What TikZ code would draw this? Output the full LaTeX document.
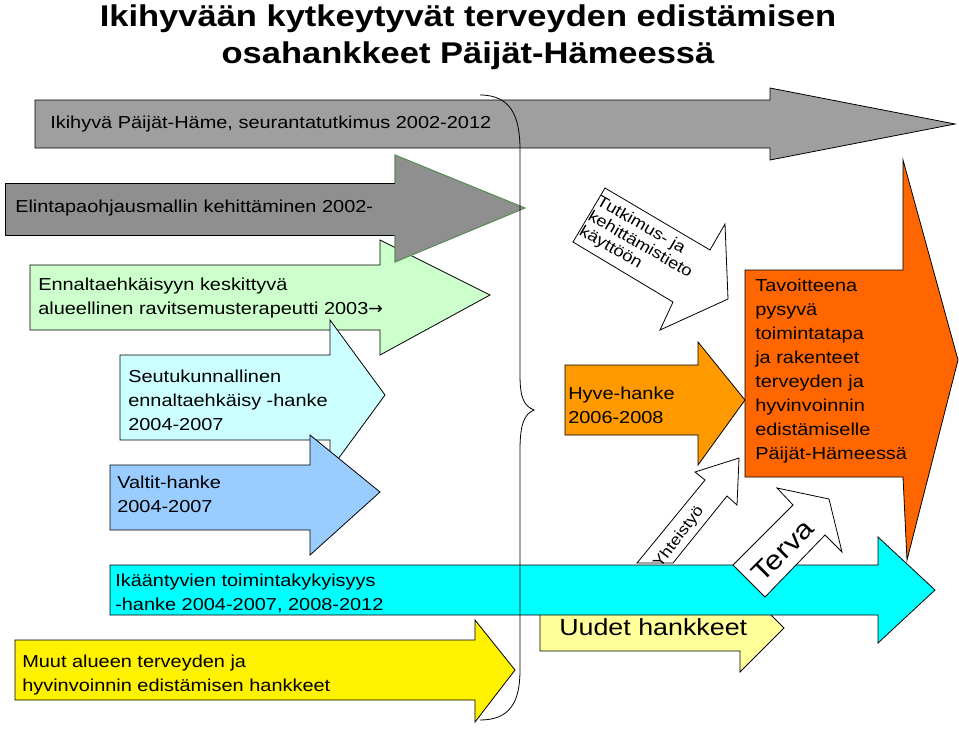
\documentclass[tikz,border=0pt]{standalone}
\usepackage{fontspec}
\setmainfont{Liberation Sans}[FakeStretch=1.15]
\begin{document}
\begin{tikzpicture}[x=0.75pt,y=-0.75pt,
  ar/.style={draw=black,line width=0.6pt,line join=miter},
  txt/.style={anchor=west,inner sep=0pt,font=\fontsize{13}{17.5}\selectfont,align=left},
  ln/.style={anchor=west,inner sep=0pt,font=\fontsize{13}{13}\selectfont}]
\useasboundingbox (0,0) rectangle (959,739);
\node[font=\bfseries\fontsize{22.5}{27.5}\selectfont,align=center] (title) at (468,37) {Ikihyvään kytkeytyvät terveyden edistämisen\\osahankkeet Päijät-Hämeessä};
% top gray
\fill[ar,fill=gray!75] (35,100) -- (770,100) -- (770,88) -- (955,124) -- (770,160) -- (770,148) -- (35,148) -- cycle;
\node[ln] (t1) at (50,124) {Ikihyvä Päijät-Häme, seurantatutkimus 2002-2012};
% Ennalta green
\fill[ar,fill={rgb,255:red,204;green,255;blue,204}] (30,265) -- (380,265) -- (380,240) -- (490,295) -- (380,355) -- (380,330) -- (30,330) -- cycle;
\node[txt] (t3) at (38,298) {Ennaltaehkäisyyn keskittyvä\\alueellinen ravitsemusterapeutti 2003{\fontspec{DejaVu Sans}\fontsize{13}{13}\selectfont →}};
% Elintapa
\fill[ar,fill=gray!90!black!80] (5,183) -- (395,183) -- (395,235) -- (5,235) -- cycle;
\fill[draw={rgb,255:red,90;green,140;blue,90},line width=0.8pt,fill=gray!90!black!80] (395,183) -- (395,155) -- (525,208) -- (395,262) -- (395,235);
\node[ln] (t2) at (15,208) {Elintapaohjausmallin kehittäminen 2002-};
% Seutu
\fill[ar,fill={rgb,255:red,204;green,255;blue,255}] (120,355) -- (330,355) -- (330,320) -- (385,395) -- (330,470) -- (330,440) -- (120,440) -- cycle;
\node[txt,font=\fontsize{13}{18}\selectfont] (t4) at (128,400) {Seutukunnallinen\\ennaltaehkäisy -hanke\\2004-2007};
% Valtit
\fill[ar,fill={rgb,255:red,153;green,204;blue,255}] (110,465) -- (310,465) -- (310,435) -- (380,492) -- (310,555) -- (310,530) -- (110,530) -- cycle;
\node[txt,font=\fontsize{13}{18}\selectfont] (t5) at (117,494) {Valtit-hanke\\2004-2007};
% Muut
\fill[ar,fill=yellow] (15,640) -- (475,640) -- (475,620) -- (515,670) -- (475,722) -- (475,700) -- (15,700) -- cycle;
\node[txt,font=\fontsize{13}{18.5}\selectfont] (t7) at (22,675) {Muut alueen terveyden ja\\hyvinvoinnin edistämisen hankkeet};
% Uudet
\fill[ar,fill={rgb,255:red,255;green,255;blue,153}] (540,600) -- (740,600) -- (740,584) -- (784,628) -- (740,672) -- (740,651) -- (540,651) -- cycle;
\node[anchor=west,inner sep=0pt,font=\fontsize{17.5}{17.5}\selectfont] (t8) at (559,627) {Uudet hankkeet};
% yhteistyo
\fill[ar,fill=white] (637,563) -- (705,480) -- (695,472) -- (739,458) -- (737,505) -- (727,496) -- (673,563) -- cycle;
\node[inner sep=0pt,anchor=east,rotate=53,font=\fontsize{11.5}{11.5}\selectfont] (t9) at (701,508) {Yhteistyö};
% cyan
\fill[ar,fill={rgb,255:red,0;green,255;blue,255}] (110,565) -- (878,565) -- (878,537) -- (935,590) -- (878,643) -- (878,615) -- (110,615) -- cycle;
\node[txt,font=\fontsize{13}{18}\selectfont] (t6) at (115,593) {Ikääntyvien toimintakykyisyys\\-hanke 2004-2007, 2008-2012};
% Terva
\fill[ar,fill=white] (733,565) -- (793,505) -- (777,488) -- (829,499) -- (842,552) -- (825,535) -- (765,597) -- cycle;
\node[inner sep=0pt,rotate=45,font=\fontsize{20}{20}\selectfont] (t10) at (783,551) {Terva};
% Hyve
\fill[ar,fill={rgb,255:red,255;green,153;blue,0}] (565,365) -- (698,365) -- (698,342) -- (745,400) -- (698,465) -- (698,435) -- (565,435) -- cycle;
\node[txt,font=\fontsize{13}{18}\selectfont] (t11) at (568,405) {Hyve-hanke\\2006-2008};
% Tutkimus
\fill[ar,fill=white] (605,188) -- (710,250) -- (725,224) -- (728,299) -- (660,330) -- (673,302) -- (573,242) -- cycle;
\node[inner sep=0pt,rotate=-30,align=left,font=\fontsize{12}{13}\selectfont] (t12) at (640,245) {Tutkimus- ja\\kehittämistieto\\käyttöön};
% Tavoitteena
\fill[ar,fill={rgb,255:red,255;green,102;blue,0}] (745,270) -- (903,270) -- (903,160) -- (958,360) -- (907,560) -- (903,477) -- (745,477) -- cycle;
\node[txt,font=\fontsize{13}{18}\selectfont] (t13) at (755,371) {Tavoitteena\\pysyvä\\toimintatapa\\ja rakenteet\\terveyden ja\\hyvinvoinnin\\edistämiselle\\Päijät-Hämeessä};
% brace
\draw[line width=0.6pt] (480,95) .. controls (512,95) and (520,118) .. (520,150) -- (520,375) .. controls (520,398) and (524,406) .. (534,410) .. controls (524,414) and (520,425) .. (520,450) -- (520,670) .. controls (520,702) and (510,720) .. (480,720);
\end{tikzpicture}
\end{document}
